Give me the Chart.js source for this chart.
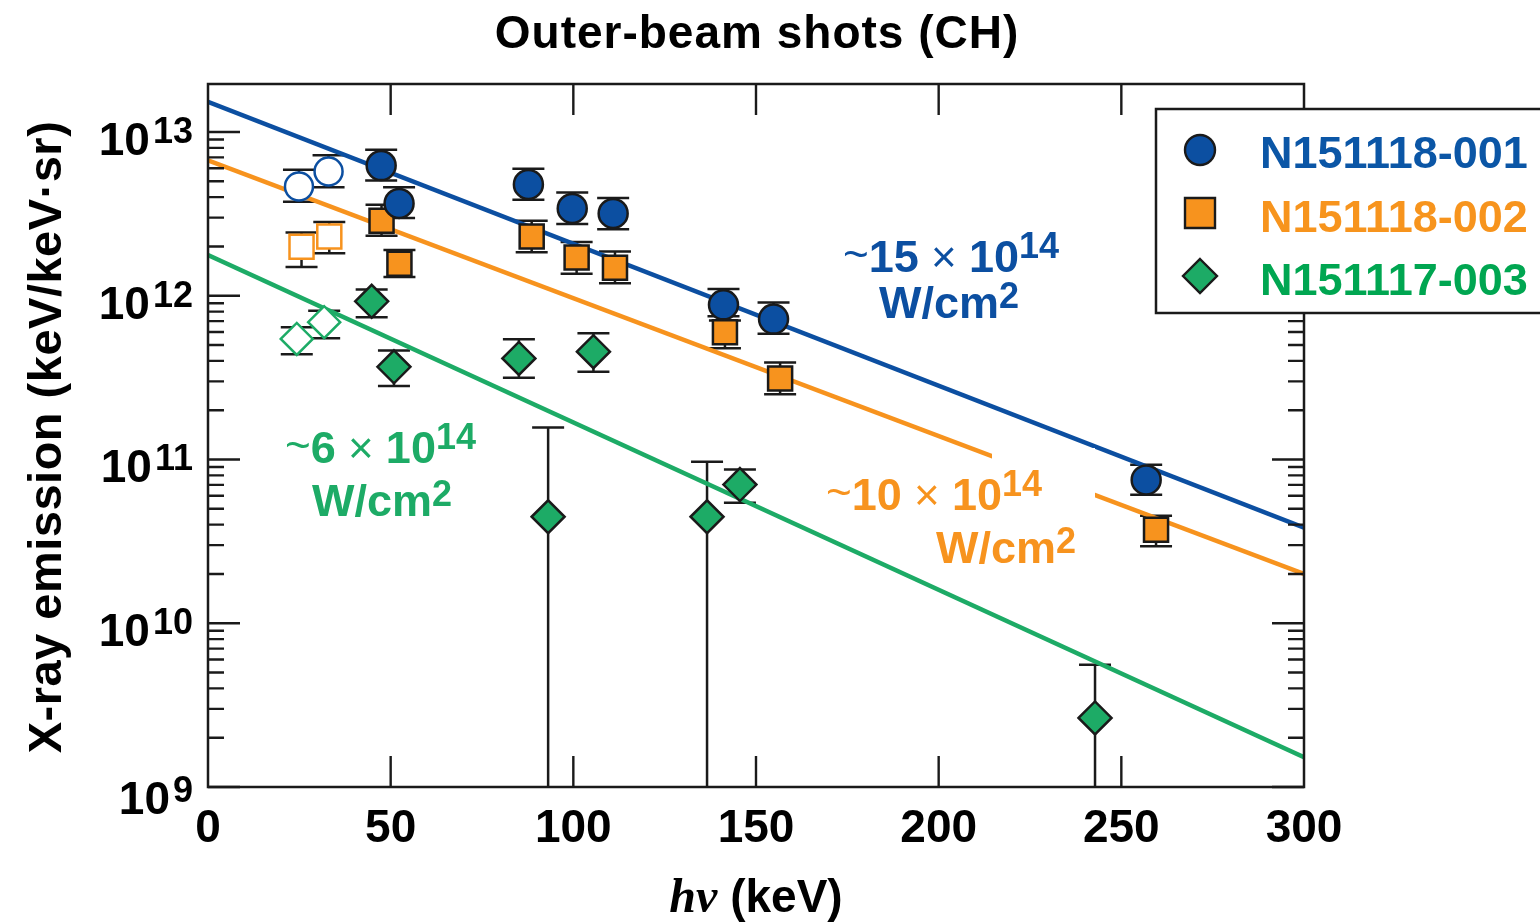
<!DOCTYPE html>
<html>
<head>
<meta charset="utf-8">
<script src="https://cdn.jsdelivr.net/npm/chart.js@4.4.1/dist/chart.umd.min.js"></script>
<style>
  html, body { margin: 0; padding: 0; background: #fff; }
</style>
</head>
<body>
<canvas id="xrayChart" width="1540" height="923"></canvas>
<script>
// X-ray emission vs photon energy, outer-beam shots (CH)

var xTicks = [0, 50, 100, 150, 200, 250, 300];
var yExps = [9, 10, 11, 12, 13];

// N151118-001 (filled circles)
var blueX  = [47.4, 52.3, 87.7, 99.7, 110.9, 141.1, 154.8, 256.8];
var blueY  = [6.24e12, 3.66e12, 4.78e12, 3.41e12, 3.18e12, 8.8e11, 7.2e11, 7.5e10];
var blueHi = [7.8e12, 4.6e12, 5.96e12, 4.27e12, 3.95e12, 1.1e12, 9.1e11, 9.3e10];
var blueLo = [5.05e12, 2.98e12, 3.86e12, 2.74e12, 2.55e12, 7.5e11, 5.85e11, 6.1e10];
// N151118-001 (open circles)
var blueOpenX  = [24.9, 33.0];
var blueOpenY  = [4.64e12, 5.73e12];
var blueOpenHi = [5.88e12, 7.22e12];
var blueOpenLo = [3.75e12, 4.6e12];

// N151118-002 (filled squares)
var orangeX  = [47.5, 52.4, 88.6, 100.9, 111.4, 141.5, 156.6, 259.5];
var orangeY  = [2.87e12, 1.57e12, 2.3e12, 1.71e12, 1.48e12, 5.98e11, 3.12e11, 3.72e10];
var orangeHi = [3.6e12, 1.9e12, 2.87e12, 2.13e12, 1.86e12, 7.06e11, 3.91e11, 4.53e10];
var orangeLo = [2.32e12, 1.3e12, 1.84e12, 1.36e12, 1.19e12, 4.78e11, 2.5e11, 2.95e10];
// N151118-002 (open squares)
var orangeOpenX  = [25.6, 33.2];
var orangeOpenY  = [1.99e12, 2.3e12];
var orangeOpenHi = [2.43e12, 2.82e12];
var orangeOpenLo = [1.5e12, 1.82e12];

// N151117-003 (filled diamonds); lower bars that run off the axis use 1e8
var greenX  = [44.8, 50.9, 85.1, 93.1, 105.5, 136.6, 145.6, 242.8];
var greenY  = [9.25e11, 3.68e11, 4.14e11, 4.47e10, 4.55e11, 4.47e10, 7.03e10, 2.64e9];
var greenHi = [1.09e12, 4.63e11, 5.42e11, 1.57e11, 5.9e11, 9.7e10, 8.7e10, 5.58e9];
var greenLo = [7.4e11, 2.81e11, 3.16e11, 1e8, 3.43e11, 1e8, 5.45e10, 1e8];
// N151117-003 (open diamonds)
var greenOpenX  = [24.3, 31.8];
var greenOpenY  = [5.45e11, 6.89e11];
var greenOpenHi = [6.43e11, 8.09e11];
var greenOpenLo = [4.39e11, 5.5e11];

// exponential fits
var fitX = [0, 300];
var blueFit = [1.53e13, 3.83e10];
var orangeFit = [6.7e12, 2.0e10];
var greenFit = [1.77e12, 1.52e9];

var BLUE = '#0c4fa1', ORANGE = '#f7931e', GREEN = '#1dab66';
var EDGE = '#1a1a1a';
var FONT = "'Liberation Sans', Arial, sans-serif";

function pts(xs, ys) {
    return xs.map(function (x, i) { return { x: x, y: ys[i] }; });
}

function fitLine(ys, color) {
    return {
        type: 'line', data: pts(fitX, ys), borderColor: color, borderWidth: 4.5,
        pointRadius: 0, showLine: true, fill: false, order: 5
    };
}

function marker(xs, ys, style, r, fillColor, edgeColor, bw) {
    return {
        data: pts(xs, ys), pointStyle: style, pointRadius: r,
        backgroundColor: fillColor, borderColor: edgeColor, borderWidth: bw, order: 1
    };
}

var errorSets = [
    { x: blueX, lo: blueLo, hi: blueHi },
    { x: blueOpenX, lo: blueOpenLo, hi: blueOpenHi },
    { x: orangeX, lo: orangeLo, hi: orangeHi },
    { x: orangeOpenX, lo: orangeOpenLo, hi: orangeOpenHi },
    { x: greenX, lo: greenLo, hi: greenHi },
    { x: greenOpenX, lo: greenOpenLo, hi: greenOpenHi }
];

// text with superscripts: parts = [[text, font, dy], ...]
function drawRich(ctx, parts, x, y, color) {
    ctx.fillStyle = color;
    ctx.textAlign = 'left';
    ctx.textBaseline = 'alphabetic';
    parts.forEach(function (p) {
        ctx.font = p[1];
        ctx.fillText(p[0], x, y + (p[2] || 0));
        x += ctx.measureText(p[0]).width;
    });
}

function intensityLabel(ctx, num, x1, y1, x2, y2, color) {
    var big = 'bold 45px ' + FONT, sup = 'bold 36px ' + FONT, thin = '44px ' + FONT;
    drawRich(ctx, [['~', '44px ' + FONT, -3], [num, big], [' \u00d7 ', thin], ['10', big], ['14', sup, -14]], x1, y1, color);
    drawRich(ctx, [['W/cm', big], ['2', sup, -10]], x2, y2, color);
}

var decor = {
    id: 'decor',
    beforeDatasetsDraw: function (chart) {
        var ctx = chart.ctx, xs = chart.scales.x, ys = chart.scales.y, a = chart.chartArea;
        ctx.save();
        ctx.beginPath();
        ctx.rect(a.left, a.top, a.right - a.left, a.bottom - a.top);
        ctx.clip();
        ctx.strokeStyle = EDGE;
        ctx.lineWidth = 2.5;
        errorSets.forEach(function (s) {
            s.x.forEach(function (xv, i) {
                var px = xs.getPixelForValue(xv);
                var top = ys.getPixelForValue(s.hi[i]);
                var bot = ys.getPixelForValue(s.lo[i]);
                ctx.beginPath();
                ctx.moveTo(px, top); ctx.lineTo(px, bot);
                ctx.moveTo(px - 16, top); ctx.lineTo(px + 16, top);
                ctx.moveTo(px - 16, bot); ctx.lineTo(px + 16, bot);
                ctx.stroke();
            });
        });
        ctx.restore();
    },
    afterDatasetsDraw: function (chart) {
        var ctx = chart.ctx;
        ctx.save();
        // white label box interrupting the orange fit
        ctx.fillStyle = '#fff';
        ctx.fillRect(992, 448, 103, 58);
        intensityLabel(ctx, '15', 843, 272, 879, 318, BLUE);
        intensityLabel(ctx, '10', 826, 510, 936, 563, ORANGE);
        intensityLabel(ctx, '6', 285, 463, 312, 516, GREEN);
        ctx.restore();
    },
    afterDraw: function (chart) {
        var ctx = chart.ctx, xs = chart.scales.x, ys = chart.scales.y, a = chart.chartArea;
        ctx.save();

        // frame
        ctx.strokeStyle = EDGE;
        ctx.lineWidth = 2.5;
        ctx.strokeRect(a.left, a.top, a.right - a.left, a.bottom - a.top);

        // inward ticks
        ctx.lineWidth = 2.4;
        ctx.beginPath();
        xTicks.forEach(function (v) {
            var px = xs.getPixelForValue(v);
            if (px <= a.left + 1 || px >= a.right - 1) return;
            ctx.moveTo(px, a.bottom); ctx.lineTo(px, a.bottom - 31);
            ctx.moveTo(px, a.top); ctx.lineTo(px, a.top + 31);
        });
        yExps.forEach(function (e) {
            for (var m = 1; m <= 9; m++) {
                var v = m * Math.pow(10, e);
                if (v > ys.max) break;
                var py = ys.getPixelForValue(v);
                var len = m === 1 ? 32 : 16;
                ctx.moveTo(a.left, py); ctx.lineTo(a.left + len, py);
                ctx.moveTo(a.right, py); ctx.lineTo(a.right - len, py);
            }
        });
        ctx.stroke();

        // x tick labels
        ctx.fillStyle = '#000';
        ctx.font = 'bold 46px ' + FONT;
        ctx.textAlign = 'center';
        ctx.textBaseline = 'alphabetic';
        xTicks.forEach(function (v) {
            ctx.fillText(String(v), xs.getPixelForValue(v), 842);
        });

        // y tick labels 10^n
        yExps.forEach(function (e, i) {
            var py = ys.getPixelForValue(Math.pow(10, e));
            var base = py + (i === 0 ? 27 : 23);
            ctx.textAlign = 'right';
            ctx.font = 'bold 36px ' + FONT;
            ctx.fillText(String(e), 193, base - 12);
            var w = ctx.measureText(String(e)).width;
            ctx.font = 'bold 46px ' + FONT;
            ctx.fillText('10', 193 - w - 3, base);
        });

        // title
        ctx.textAlign = 'center';
        ctx.font = 'bold 46px ' + FONT;
        ctx.letterSpacing = '1px';
        ctx.fillText('Outer-beam shots (CH)', 757, 48);

        // y axis title
        ctx.save();
        ctx.translate(61, 437);
        ctx.rotate(-Math.PI / 2);
        ctx.font = 'bold 47px ' + FONT;
        ctx.letterSpacing = '0.5px';
        ctx.fillText('X-ray emission (keV/keV\u00b7sr)', 0, 0);
        ctx.restore();
        ctx.letterSpacing = '0px';

        // x axis title
        var p1 = 'h\u03bd', p2 = ' (keV)';
        ctx.font = "italic bold 48px 'Liberation Serif', serif";
        var w1 = ctx.measureText(p1).width;
        ctx.font = 'bold 46px ' + FONT;
        var w2 = ctx.measureText(p2).width;
        var sx = 756 - (w1 + w2) / 2;
        ctx.textAlign = 'left';
        ctx.font = "italic bold 48px 'Liberation Serif', serif";
        ctx.fillText(p1, sx, 912);
        ctx.font = 'bold 46px ' + FONT;
        ctx.fillText(p2, sx + w1, 912);

        // legend
        ctx.fillStyle = '#fff';
        ctx.fillRect(1156, 109, 400, 204);
        ctx.strokeStyle = EDGE;
        ctx.lineWidth = 2.5;
        ctx.strokeRect(1156, 109, 400, 204);
        ctx.lineWidth = 2.4;
        // circle
        ctx.beginPath();
        ctx.arc(1200, 150, 15, 0, Math.PI * 2);
        ctx.fillStyle = BLUE; ctx.fill(); ctx.stroke();
        // square
        ctx.beginPath();
        ctx.rect(1185, 198, 30, 30);
        ctx.fillStyle = ORANGE; ctx.fill(); ctx.stroke();
        // diamond
        ctx.beginPath();
        ctx.moveTo(1200, 259); ctx.lineTo(1217, 276); ctx.lineTo(1200, 293); ctx.lineTo(1183, 276);
        ctx.closePath();
        ctx.fillStyle = GREEN; ctx.fill(); ctx.stroke();

        ctx.font = 'bold 45px ' + FONT;
        ctx.textAlign = 'left';
        ctx.fillStyle = '#0b56a6'; ctx.fillText('N151118-001', 1260, 168);
        ctx.fillStyle = '#f7941d'; ctx.fillText('N151118-002', 1260, 232);
        ctx.fillStyle = '#00a651'; ctx.fillText('N151117-003', 1260, 295);

        ctx.restore();
    }
};

document.addEventListener('DOMContentLoaded', function () {
    var ctx = document.getElementById('xrayChart');
    new Chart(ctx, {
        type: 'scatter',
        data: {
            datasets: [
                fitLine(blueFit, BLUE),
                fitLine(orangeFit, ORANGE),
                fitLine(greenFit, GREEN),
                marker(blueOpenX, blueOpenY, 'circle', 14, '#fff', BLUE, 2.5),
                marker(orangeOpenX, orangeOpenY, 'rect', 17, '#fff', ORANGE, 2.5),
                marker(greenOpenX, greenOpenY, 'rectRot', 16, '#fff', GREEN, 2.5),
                marker(blueX, blueY, 'circle', 14.5, BLUE, EDGE, 2.5),
                marker(orangeX, orangeY, 'rect', 17, ORANGE, EDGE, 2.5),
                marker(greenX, greenY, 'rectRot', 16.5, GREEN, EDGE, 2.5)
            ]
        },
        options: {
            responsive: false,
            animation: false,
            devicePixelRatio: 1,
            events: [],
            layout: { padding: { left: 208, right: 236, top: 84, bottom: 136 } },
            plugins: {
                legend: { display: false },
                tooltip: { enabled: false },
                title: { display: false }
            },
            scales: {
                x: { type: 'linear', min: 0, max: 300, display: false },
                y: { type: 'logarithmic', min: 1e9, max: 1.963e13, display: false }
            }
        },
        plugins: [decor]
    });
});
</script>
</body>
</html>
